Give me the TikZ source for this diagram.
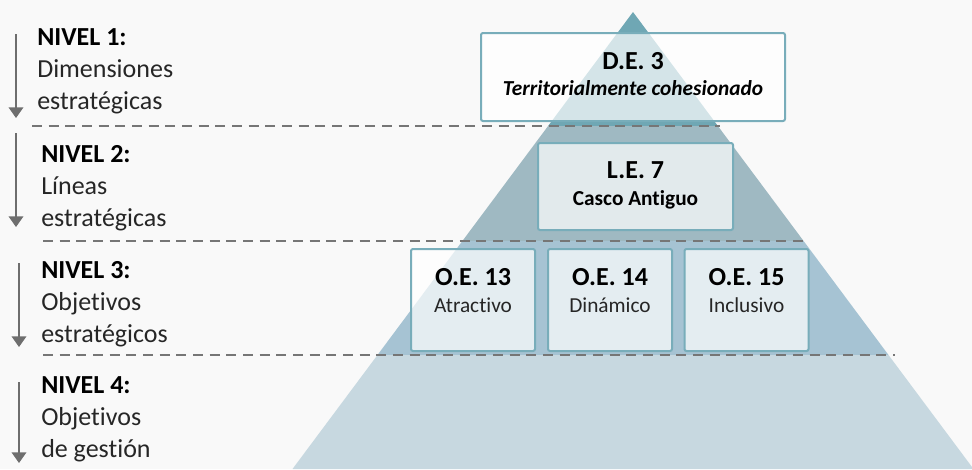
\documentclass[tikz,border=0pt]{standalone}
\usepackage{fontspec}
\setmainfont{Carlito}[Ligatures=NoCommon]
\usepackage{xcolor}
\usetikzlibrary{arrows.meta,positioning}
\definecolor{pagebg}{HTML}{F9F9F9}
\definecolor{bandA}{HTML}{6FA7B4}
\definecolor{bandB}{HTML}{9FB9C2}
\definecolor{bandC}{HTML}{A6C3D3}
\definecolor{bandD}{HTML}{C7D8E0}
\definecolor{boxline}{HTML}{78ADBA}
\definecolor{sepgray}{HTML}{767676}
\definecolor{arrgray}{HTML}{6E6E6E}
\definecolor{txtgray}{HTML}{262626}

\begin{document}
\begin{tikzpicture}[x=0.75pt,y=-0.75pt,
    box/.style={draw=boxline, line width=1.5pt, fill=white, fill opacity=0.7, text opacity=1,
        rounded corners=1.5pt, align=center, inner sep=0pt, text height=32pt, text depth=4pt,
        font=\fontsize{16}{20}\selectfont},
    oebox/.style={box, minimum width=93pt, minimum height=76.5pt, text height=22pt, text=txtgray},
    sep/.style={draw=sepgray, line width=2pt, dash pattern=on 7.5pt off 5pt},
    lvl/.style={draw=arrgray, line width=1.1pt, -{Triangle[width=11pt,length=8pt]}},
    lbl/.style={anchor=base west, align=left, inner sep=0pt, text=txtgray,
        font=\fontsize{19.5}{24}\selectfont}]
    \useasboundingbox (0,0) rectangle (972,469);
    \fill[pagebg] (0,0) rectangle (972,469);

    % pyramid bands
    \fill[bandA] (633,12) -- (717.9,126) -- (548.1,126) -- cycle;
    \fill[bandB] (548.1,126) -- (717.9,126) -- (803.6,241) -- (462.4,241) -- cycle;
    \fill[bandC] (462.4,241) -- (803.6,241) -- (888.5,355) -- (377.5,355) -- cycle;
    \fill[bandD] (377.5,355) -- (888.5,355) -- (973.5,469) -- (292.5,469) -- cycle;

    % level separators
    \coordinate (s1w) at (32,126);  \coordinate (s1e) at (720,126);
    \coordinate (s2w) at (43,241);  \coordinate (s2e) at (807,241);
    \coordinate (s3w) at (43,355);  \coordinate (s3e) at (895,355);
    \draw[sep] (s1w) -- (s1e);
    \draw[sep] (s2w) -- (s2e);
    \draw[sep] (s3w) -- (s3e);

    % boxes
    \node[box, minimum width=228pt, minimum height=66pt] (de3) at (633,77)
        {{\fontsize{19.5}{20}\selectfont\bfseries D.E. 3}\\\textbf{\textit{Territorialmente cohesionado}}};
    \node[box, minimum width=146.25pt, minimum height=65.25pt] (le7) at (635.5,186.5)
        {{\fontsize{19.5}{20}\selectfont\bfseries L.E. 7}\\\textbf{Casco Antiguo}};
    \node[oebox] (oe13) at (473,300)
        {{\fontsize{19.5}{20}\selectfont\bfseries\color{black}O.E. 13}\\Atractivo};
    \node[oebox] (oe14) at (610,300)
        {{\fontsize{19.5}{20}\selectfont\bfseries\color{black}O.E. 14}\\Dinámico};
    \node[oebox] (oe15) at (746.5,300)
        {{\fontsize{19.5}{20}\selectfont\bfseries\color{black}O.E. 15}\\Inclusivo};

    % level labels
    \node[lbl] (niv1) at (37,109) {\textbf{\color{black}NIVEL 1:}\\Dimensiones\\estratégicas};
    \node[lbl] (niv2) at (41,226) {\textbf{\color{black}NIVEL 2:}\\Líneas\\estratégicas};
    \node[lbl] (niv3) at (41,342) {\textbf{\color{black}NIVEL 3:}\\Objetivos\\estratégicos};
    \node[lbl] (niv4) at (41,457) {\textbf{\color{black}NIVEL 4:}\\Objetivos\\de gestión};

    % level arrows
    \coordinate (a1s) at (16,34);  \coordinate (a1e) at (16,118);
    \coordinate (a2s) at (16,133); \coordinate (a2e) at (16,227);
    \coordinate (a3s) at (19,263); \coordinate (a3e) at (19,347);
    \coordinate (a4s) at (19,382); \coordinate (a4e) at (19,463);
    \draw[lvl] (a1s) -- (a1e);
    \draw[lvl] (a2s) -- (a2e);
    \draw[lvl] (a3s) -- (a3e);
    \draw[lvl] (a4s) -- (a4e);
\end{tikzpicture}
\end{document}
